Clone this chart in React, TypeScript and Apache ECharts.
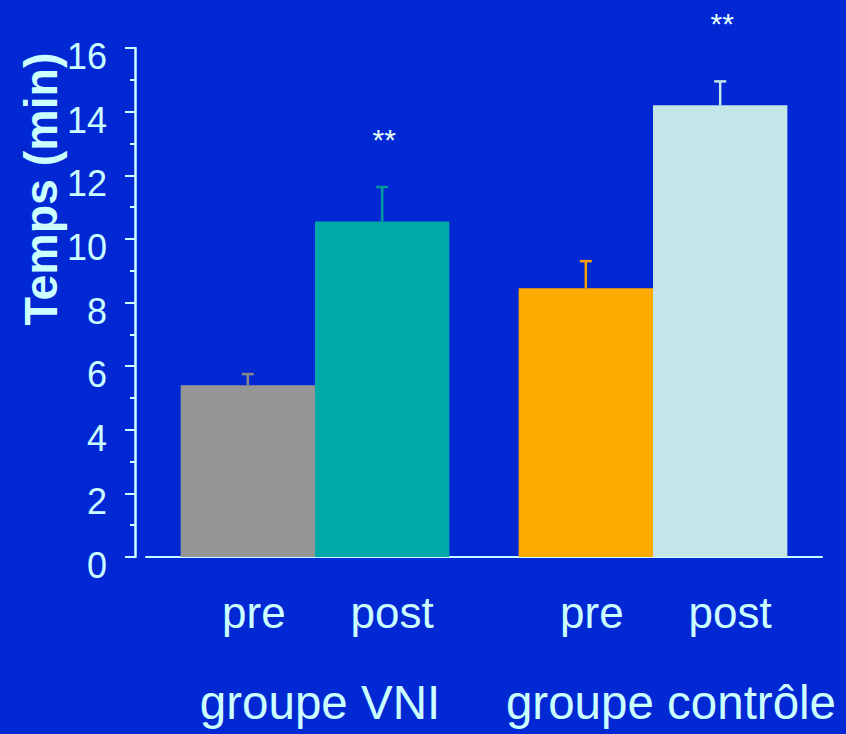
import React, { useEffect, useRef } from "react";
import * as echarts from "echarts";

// ---- data ----
const groups = ["groupe VNI", "groupe contrôle"];
const phases = ["pre", "post"];
const preMeans = [5.4, 8.45];
const preErrors = [0.35, 0.85];
const postMeans = [10.55, 14.2];
const postErrors = [1.08, 0.75];
const postSignificance = ["**", "**"];
const yMin = 0;
const yMax = 16;
const yInterval = 2;
const yTitle = "Temps (min)";

// ---- styles ----
const BG = "#0228d3";
const TEXT = "#ccffff";
const preColors = ["#969696", "#ffaa00"];
const postColors = ["#00a8a8", "#c4e6e8"];
const preErrColors = ["#8a8a8a", "#ff9f00"];
const postErrColors = ["#009a9a", "#c4e6e8"];
const CATEGORY_GAP = 0.205;
const groupLabelShift = [5, 18];

function makeErrorSeries(
  phaseIdx: number,
  means: number[],
  errs: number[],
  errColors: string[],
  signif: string[] | null
) {
  return {
    type: "custom",
    z: 5,
    silent: true,
    data: means.map((m, i) => [i, m, errs[i]]),
    renderItem: (params: any, api: any) => {
      const cat = api.value(0);
      const mean = api.value(1);
      const err = api.value(2);
      const center = api.coord([cat, 0]);
      const band = api.size([1, 0])[0];
      const bw = (band * (1 - CATEGORY_GAP)) / 2;
      const x = center[0] + (phaseIdx === 0 ? -bw / 2 : bw / 2);
      const top = api.coord([cat, mean])[1];
      const errTop = api.coord([cat, mean + err])[1];
      const color = errColors[params.dataIndex];
      const children: any[] = [
        {
          type: "line",
          shape: { x1: x, y1: top, x2: x, y2: errTop },
          style: { stroke: color, lineWidth: 2.5 },
        },
        {
          type: "line",
          shape: { x1: x - 6, y1: errTop, x2: x + 6, y2: errTop },
          style: { stroke: color, lineWidth: 2.5 },
        },
      ];
      if (signif && signif[params.dataIndex]) {
        children.push({
          type: "text",
          x: x + 2,
          y: top - 82,
          style: {
            text: signif[params.dataIndex],
            fill: "#e6ffff",
            font: "30px 'Liberation Sans', Arial, sans-serif",
            align: "center",
            verticalAlign: "middle",
          },
        });
      }
      return { type: "group", children };
    },
  };
}

export default function App() {
  const ref = useRef<HTMLDivElement>(null);

  useEffect(() => {
    if (!ref.current) return;
    const chart = echarts.init(ref.current, undefined, { renderer: "svg" });
    const labelFont = "'Liberation Sans', Arial, sans-serif";
    const option: any = {
      animation: false,
      backgroundColor: BG,
      grid: { left: 146, right: 24, top: 48, bottom: 177 },
      xAxis: {
        type: "category",
        data: groups.map((g, i) => ({
          value: g,
          textStyle: { padding: [0, 0, 0, groupLabelShift[i] * 2] },
        })),
        axisLine: { show: true, lineStyle: { color: TEXT, width: 2 } },
        axisTick: { show: false },
        axisLabel: {
          color: TEXT,
          fontSize: 47.5,
          fontFamily: labelFont,
          margin: 121,
          interval: 0,
        },
      },
      yAxis: {
        type: "value",
        min: yMin,
        max: yMax,
        interval: yInterval,
        offset: 11,
        axisLine: { show: true, lineStyle: { color: TEXT, width: 2.5 } },
        axisTick: { show: true, length: 10, lineStyle: { color: TEXT, width: 2 } },
        minorTick: { show: true, splitNumber: 2, length: 5, lineStyle: { color: TEXT, width: 2 } },
        splitLine: { show: false },
        minorSplitLine: { show: false },
        axisLabel: {
          color: TEXT,
          fontSize: 36,
          fontFamily: labelFont,
          margin: 28,
          verticalAlign: "top",
          lineHeight: 17,
        },
      },
      graphic: [
        {
          type: "text",
          x: 41,
          y: 189,
          rotation: Math.PI / 2,
          style: {
            text: yTitle,
            fill: TEXT,
            font: "bold 46.5px 'Liberation Sans', Arial, sans-serif",
            align: "center",
            verticalAlign: "middle",
          },
        },
      ],
      series: [
        {
          name: phases[0],
          type: "bar",
          data: preMeans,
          barGap: "0%",
          barCategoryGap: CATEGORY_GAP * 100 + "%",
          itemStyle: { color: (p: any) => preColors[p.dataIndex] },
          label: {
            show: true,
            position: "bottom",
            distance: 33,
            offset: [6, 0],
            formatter: "{a}",
            color: TEXT,
            fontSize: 44,
            fontFamily: labelFont,
          },
        },
        {
          name: phases[1],
          type: "bar",
          data: postMeans,
          barGap: "0%",
          barCategoryGap: CATEGORY_GAP * 100 + "%",
          itemStyle: { color: (p: any) => postColors[p.dataIndex] },
          label: {
            show: true,
            position: "bottom",
            distance: 33,
            offset: [10, 0],
            formatter: "{a}",
            color: TEXT,
            fontSize: 44,
            fontFamily: labelFont,
          },
        },
        makeErrorSeries(0, preMeans, preErrors, preErrColors, null),
        makeErrorSeries(1, postMeans, postErrors, postErrColors, postSignificance),
      ],
    };
    chart.setOption(option);
    return () => chart.dispose();
  }, []);

  return (
    <div
      ref={ref}
      style={{ position: "absolute", left: 0, top: 0, width: 846, height: 734, background: BG }}
    />
  );
}
